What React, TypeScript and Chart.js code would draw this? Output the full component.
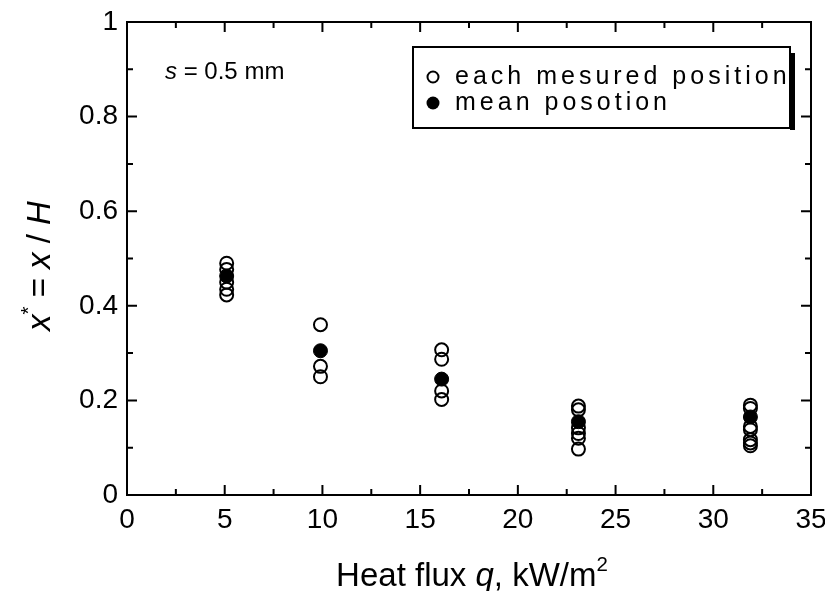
import React, { useEffect, useRef } from "react";
import { Chart, registerables } from "chart.js";

Chart.register(...registerables);

// ---- data ----
const fluxLevels = [5.1, 9.9, 16.1, 23.1, 31.9];
const measuredAt5 = [0.49, 0.477, 0.45, 0.435, 0.423];
const measuredAt10 = [0.36, 0.272, 0.25];
const measuredAt16 = [0.307, 0.287, 0.22, 0.202];
const measuredAt23 = [0.188, 0.18, 0.142, 0.13, 0.12, 0.097];
const measuredAt32 = [0.19, 0.183, 0.145, 0.138, 0.117, 0.11, 0.104];
const meanPositions = [0.463, 0.305, 0.245, 0.155, 0.165];
const xTickLabels = ["0", "5", "10", "15", "20", "25", "30", "35"];
const yTickLabels = ["0", "0.2", "0.4", "0.6", "0.8", "1"];
const legendLabels = ["each mesured position", "mean posotion"];
const annotationText = ["s", " = 0.5 mm"];

const measuredGroups = [measuredAt5, measuredAt10, measuredAt16, measuredAt23, measuredAt32];

const FONT = '"Liberation Sans", Arial, sans-serif';

type Part = { t: string; it?: boolean; sup?: boolean };

function drawRich(ctx: CanvasRenderingContext2D, parts: Part[], size: number) {
  let x = 0;
  for (const p of parts) {
    const s = p.sup ? size * 0.62 : size;
    ctx.font = `${p.it ? "italic " : ""}${s}px ${FONT}`;
    ctx.fillText(p.t, x, p.sup ? -size * 0.45 : 0);
    x += ctx.measureText(p.t).width;
  }
  return x;
}
function measureRich(ctx: CanvasRenderingContext2D, parts: Part[], size: number) {
  let x = 0;
  for (const p of parts) {
    const s = p.sup ? size * 0.62 : size;
    ctx.font = `${p.it ? "italic " : ""}${s}px ${FONT}`;
    x += ctx.measureText(p.t).width;
  }
  return x;
}

const decorPlugin = {
  id: "decor",
  afterDraw(chart: any) {
    const ctx: CanvasRenderingContext2D = chart.ctx;
    const { left, right, top, bottom } = chart.chartArea;
    const xs = chart.scales.x;
    const ys = chart.scales.y;
    ctx.save();
    ctx.strokeStyle = "#000";
    ctx.fillStyle = "#000";
    ctx.lineWidth = 2;
    ctx.strokeRect(left, top, right - left, bottom - top);

    // inward ticks
    for (let v = 0; v <= 35.001; v += 2.5) {
      const px = xs.getPixelForValue(v);
      const len = Math.abs(v % 5) < 1e-6 ? 10 : 6;
      ctx.beginPath();
      ctx.moveTo(px, bottom);
      ctx.lineTo(px, bottom - len);
      ctx.moveTo(px, top);
      ctx.lineTo(px, top + len);
      ctx.stroke();
    }
    for (let i = 0; i <= 10; i++) {
      const py = ys.getPixelForValue(i / 10);
      const len = i % 2 === 0 ? 10 : 6;
      ctx.beginPath();
      ctx.moveTo(left, py);
      ctx.lineTo(left + len, py);
      ctx.moveTo(right, py);
      ctx.lineTo(right - len, py);
      ctx.stroke();
    }

    // annotation
    ctx.textBaseline = "alphabetic";
    ctx.textAlign = "left";
    ctx.save();
    ctx.translate(165, 79);
    drawRich(ctx, [{ t: annotationText[0], it: true }, { t: annotationText[1] }], 24);
    ctx.restore();

    // legend box
    const lx = 413, ly = 47, lw = 377, lh = 81;
    ctx.fillStyle = "#fff";
    ctx.fillRect(lx, ly, lw, lh);
    ctx.fillStyle = "#000";
    ctx.fillRect(lx + lw, ly + 6, 5, lh - 4);
    ctx.lineWidth = 2;
    ctx.strokeRect(lx, ly, lw, lh);
    ctx.beginPath();
    ctx.arc(433, 77, 5.5, 0, Math.PI * 2);
    ctx.fillStyle = "#fff";
    ctx.fill();
    ctx.lineWidth = 2;
    ctx.stroke();
    ctx.beginPath();
    ctx.arc(433, 103, 6.5, 0, Math.PI * 2);
    ctx.fillStyle = "#000";
    ctx.fill();
    ctx.font = `25px ${FONT}`;
    (ctx as any).letterSpacing = "4px";
    ctx.textBaseline = "middle";
    ctx.fillText(legendLabels[0], 455, 77);
    ctx.fillText(legendLabels[1], 455, 103);
    (ctx as any).letterSpacing = "0px";

    // x title
    ctx.textBaseline = "alphabetic";
    const xParts: Part[] = [{ t: "Heat flux " }, { t: "q", it: true }, { t: ", kW/m" }, { t: "2", sup: true }];
    const xw = measureRich(ctx, xParts, 33);
    ctx.save();
    ctx.translate(472 - xw / 2, 586);
    drawRich(ctx, xParts, 33);
    ctx.restore();

    // y title
    const yParts: Part[] = [{ t: "x", it: true }, { t: "*", sup: true }, { t: " = " }, { t: "x", it: true }, { t: " / " }, { t: "H", it: true }];
    const yw = measureRich(ctx, yParts, 33);
    ctx.save();
    ctx.translate(50, 266 + yw / 2);
    ctx.rotate(-Math.PI / 2);
    drawRich(ctx, yParts, 33);
    ctx.restore();

    ctx.restore();
  },
};

export default function App() {
  const ref = useRef<HTMLCanvasElement>(null);
  useEffect(() => {
    if (!ref.current) return;
    const measured = fluxLevels.flatMap((q, i) => measuredGroups[i].map((y) => ({ x: q, y })));
    const means = fluxLevels.map((q, i) => ({ x: q, y: meanPositions[i] }));
    const chart = new Chart(ref.current, {
      type: "scatter",
      data: {
        datasets: [
          {
            label: legendLabels[1],
            data: means,
            pointRadius: 7,
            pointBackgroundColor: "#000",
            pointBorderColor: "#000",
            pointBorderWidth: 1,
            order: 2,
          },
          {
            label: legendLabels[0],
            data: measured,
            pointRadius: 6.5,
            pointBackgroundColor: "rgba(255,255,255,0)",
            pointBorderColor: "#000",
            pointBorderWidth: 2,
            order: 1,
          },
        ],
      },
      options: {
        animation: false,
        responsive: false,
        devicePixelRatio: 1,
        layout: { padding: { left: 0, top: 22, right: 14, bottom: 0 } },
        plugins: { legend: { display: false }, tooltip: { enabled: false } },
        scales: {
          x: {
            type: "linear",
            min: 0,
            max: 35,
            grid: { display: false, drawTicks: false },
            border: { display: false },
            ticks: {
              stepSize: 5,
              padding: 8,
              color: "#000",
              font: { family: FONT, size: 28 },
              callback: (_v: any, i: number) => xTickLabels[i],
            },
            afterFit: (s: any) => {
              s.height = 96;
              s.paddingLeft = 0;
              s.paddingRight = 0;
            },
          },
          y: {
            type: "linear",
            min: 0,
            max: 1,
            grid: { display: false, drawTicks: false },
            border: { display: false },
            ticks: {
              stepSize: 0.2,
              padding: 9,
              color: "#000",
              font: { family: FONT, size: 28 },
              callback: (_v: any, i: number) => yTickLabels[i],
            },
            afterFit: (s: any) => {
              s.width = 127;
              s.paddingTop = 0;
              s.paddingBottom = 0;
            },
          },
        },
      },
      plugins: [decorPlugin],
    });
    return () => chart.destroy();
  }, []);
  return (
    <div style={{ position: "fixed", left: 0, top: 0, width: 825, height: 591, background: "#fff" }}>
      <canvas ref={ref} width={825} height={591} />
    </div>
  );
}
